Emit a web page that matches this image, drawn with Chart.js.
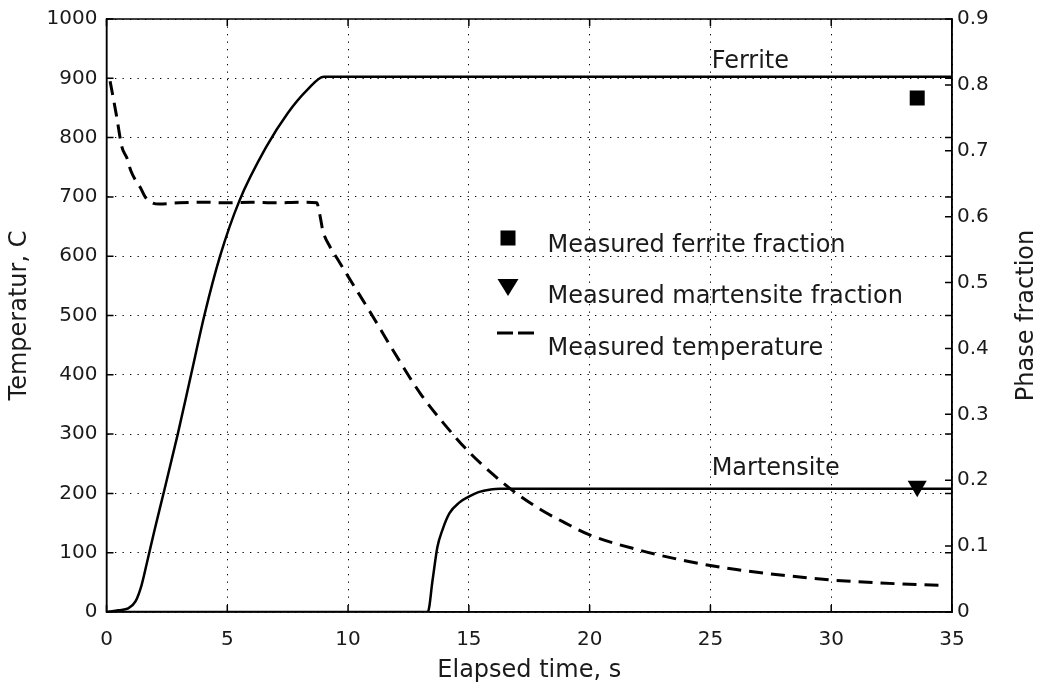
<!DOCTYPE html>
<html><head><meta charset="utf-8">
<style>html,body{margin:0;padding:0;background:#fff;}#wrap{width:1042px;height:689px;}</style>
<script src="https://cdn.jsdelivr.net/npm/chart.js@4.4.0/dist/chart.umd.min.js"></script>
</head><body><div id="wrap"><canvas id="c" width="1042" height="689"></canvas></div>
<script>
// ---- data ----
const ferriteTime = [0, 0.5, 0.9, 1.2, 1.45, 1.7, 2.0, 2.4, 2.95, 3.5, 4.05, 4.7, 5.5, 6.6, 7.5, 8.3, 9.0, 35];
const ferriteFraction = [0, 0.0027, 0.0054, 0.016, 0.0405, 0.079, 0.126, 0.186, 0.27, 0.36, 0.45, 0.54, 0.624, 0.705, 0.757, 0.792, 0.8125, 0.8125];
const martensiteTime = [0, 13.3, 13.5, 13.7, 13.9, 14.2, 14.6, 15.0, 15.4, 15.9, 16.3, 35];
const martensiteFraction = [0, 0, 0.049, 0.099, 0.124, 0.15, 0.166, 0.175, 0.182, 0.186, 0.187, 0.187];
const tempTime = [0.15, 0.4, 0.64, 0.85, 1.0, 1.2, 1.4, 1.6, 1.9, 2.2, 3, 4, 5, 6, 7, 8, 8.7, 8.85, 8.95, 9.25, 9.55, 10, 11, 12, 13, 14, 15, 16, 17, 18, 19, 20, 22, 24, 26, 28, 30, 32, 34.5];
const tempValues = [895, 840, 784, 765, 745, 728, 716, 700, 690, 688, 690, 691, 690, 691, 690, 691, 690, 666, 644, 616, 596, 566, 500, 432, 368, 316, 270, 232, 199, 172, 150, 130, 105, 86, 72, 62, 54, 49, 45];
const measuredTime = [33.56];
const measuredFerrite = [0.78];
const measuredMartensite = [0.191];
const xTicks = [0, 5, 10, 15, 20, 25, 30, 35];
const xTickLabels = ['0', '5', '10', '15', '20', '25', '30', '35'];
const tempTicks = [0, 100, 200, 300, 400, 500, 600, 700, 800, 900, 1000];
const tempTickLabels = ['0', '100', '200', '300', '400', '500', '600', '700', '800', '900', '1000'];
const fracTicks = [0, 0.1, 0.2, 0.3, 0.4, 0.5, 0.6, 0.7, 0.8, 0.9];
const fracTickLabels = ['0', '0.1', '0.2', '0.3', '0.4', '0.5', '0.6', '0.7', '0.8', '0.9'];
const curveLabels = ['Ferrite', 'Martensite'];
const curveLabelTime = [25.05, 25.05];
const curveLabelTemp = [917, 231];
const seriesNames = ['Ferrite', 'Martensite', 'Measured temperature', 'Measured ferrite fraction', 'Measured martensite fraction'];
const axisTitles = ['Elapsed time, s', 'Temperatur, C', 'Phase fraction'];

const FONT = 'DejaVu Sans';
const TEXT = '#1a1a1a';
const pts = (xs, ys) => xs.map((x, i) => ({x, y: ys[i]}));

const framePlugin = {
  id: 'framePlugin',
  afterDatasetsDraw(chart) {
    const {ctx, chartArea: a, scales} = chart;
    ctx.save();
    ctx.strokeStyle = '#000';
    ctx.lineWidth = 1.5;
    ctx.strokeRect(a.left, a.top, a.right - a.left, a.bottom - a.top);
    const L = 7;
    ctx.beginPath();
    scales.x.ticks.forEach(t => {
      const p = scales.x.getPixelForValue(t.value);
      ctx.moveTo(p, a.bottom); ctx.lineTo(p, a.bottom - L);
      ctx.moveTo(p, a.top); ctx.lineTo(p, a.top + L);
    });
    scales.y.ticks.forEach(t => {
      const p = scales.y.getPixelForValue(t.value);
      ctx.moveTo(a.left, p); ctx.lineTo(a.left + L, p);
      ctx.moveTo(a.right, p); ctx.lineTo(a.right - L, p);
    });
    scales.y2.ticks.forEach(t => {
      const p = scales.y2.getPixelForValue(t.value);
      ctx.moveTo(a.right, p); ctx.lineTo(a.right - L, p);
    });
    ctx.stroke();

    // curve labels
    ctx.fillStyle = TEXT;
    ctx.font = '24px "' + FONT + '"';
    ctx.textAlign = 'left';
    ctx.textBaseline = 'alphabetic';
    curveLabels.forEach((s, i) => {
      ctx.fillText(s, scales.x.getPixelForValue(curveLabelTime[i]), scales.y.getPixelForValue(curveLabelTemp[i]));
    });

    // legend
    const lx = a.left + 401.5, tx = a.left + 441;
    const rows = [
      {ds: 3, y: 252, sym: 'rect'},
      {ds: 4, y: 303, sym: 'tri'},
      {ds: 2, y: 355, sym: 'dash'}
    ];
    rows.forEach(r => {
      const label = chart.data.datasets[r.ds].label;
      ctx.fillStyle = TEXT;
      ctx.fillText(label, tx, r.y);
      ctx.fillStyle = '#000';
      if (r.sym === 'rect') {
        ctx.fillRect(lx - 7.5, r.y - 21.5, 15, 15);
      } else if (r.sym === 'tri') {
        const cy = r.y - 18;
        ctx.beginPath();
        ctx.moveTo(lx - 10.5, cy - 6);
        ctx.lineTo(lx + 10.5, cy - 6);
        ctx.lineTo(lx, cy + 11);
        ctx.closePath();
        ctx.fill();
      } else {
        ctx.lineWidth = 3;
        ctx.setLineDash([16, 5]);
        ctx.beginPath();
        ctx.moveTo(lx - 11, r.y - 22);
        ctx.lineTo(lx + 26, r.y - 22);
        ctx.stroke();
        ctx.setLineDash([]);
      }
    });

    // right axis title (reads bottom to top)
    ctx.save();
    ctx.translate(1027, (a.top + a.bottom) / 2);
    ctx.rotate(-Math.PI / 2);
    ctx.textAlign = 'center';
    ctx.textBaseline = 'middle';
    ctx.fillStyle = TEXT;
    ctx.fillText(axisTitles[2], 0, 0);
    ctx.restore();
    ctx.restore();
  }
};

new Chart(document.getElementById('c'), {
  type: 'line',
  data: {
    datasets: [
      {label: seriesNames[0], data: pts(ferriteTime, ferriteFraction), yAxisID: 'y2', borderColor: '#000', borderWidth: 2.5, pointRadius: 0, cubicInterpolationMode: 'monotone', fill: false},
      {label: seriesNames[1], data: pts(martensiteTime, martensiteFraction), yAxisID: 'y2', borderColor: '#000', borderWidth: 2.5, pointRadius: 0, cubicInterpolationMode: 'monotone', fill: false},
      {label: seriesNames[2], data: pts(tempTime, tempValues), yAxisID: 'y', borderColor: '#000', borderWidth: 3, borderDash: [14, 8], pointRadius: 0, cubicInterpolationMode: 'monotone', fill: false},
      {label: seriesNames[3], data: pts(measuredTime, measuredFerrite), yAxisID: 'y2', showLine: false, pointStyle: 'rect', pointRadius: 10.6, backgroundColor: '#000', borderColor: '#000', borderWidth: 0},
      {label: seriesNames[4], data: pts(measuredTime, measuredMartensite), yAxisID: 'y2', showLine: false, pointStyle: 'triangle', rotation: 180, pointRadius: 11, backgroundColor: '#000', borderColor: '#000', borderWidth: 0}
    ]
  },
  options: {
    responsive: false,
    devicePixelRatio: 1,
    animation: false,
    layout: {padding: {top: 19, left: 0, right: 0, bottom: 0}},
    plugins: {legend: {display: false}, tooltip: {enabled: false}},
    scales: {
      x: {
        type: 'linear', min: 0, max: 35,
        afterBuildTicks: s => { s.ticks = xTicks.map(v => ({value: v})); },
        afterFit: s => { s.height = 77; s.paddingLeft = 0; s.paddingRight = 0; },
        ticks: {color: TEXT, font: {family: FONT, size: 20}, padding: 16, maxRotation: 0, autoSkip: false,
          callback: (v, i) => xTickLabels[i]},
        grid: {color: '#000', lineWidth: 1, drawTicks: false},
        border: {display: true, color: '#000', width: 1.5, dash: [1.3, 6.2]},
        title: {display: true, text: axisTitles[0], color: TEXT, font: {family: FONT, size: 24}, padding: {top: 0, bottom: 3.6}}
      },
      y: {
        type: 'linear', position: 'left', min: 0, max: 1000,
        afterBuildTicks: s => { s.ticks = tempTicks.map(v => ({value: v})); },
        afterFit: s => { s.width = 106.5; s.paddingTop = 0; s.paddingBottom = 0; },
        ticks: {color: TEXT, font: {family: FONT, size: 20}, padding: 9, autoSkip: false,
          callback: (v, i) => tempTickLabels[i]},
        grid: {color: '#000', lineWidth: 1, drawTicks: false},
        border: {display: true, color: '#000', width: 1.5, dash: [1.3, 6.2]},
        title: {display: true, text: axisTitles[1], color: TEXT, font: {family: FONT, size: 24}, padding: {top: 5.6, bottom: 0}}
      },
      y2: {
        type: 'linear', position: 'right', min: 0, max: 0.9,
        afterBuildTicks: s => { s.ticks = fracTicks.map(v => ({value: v})); },
        afterFit: s => { s.width = 90; s.paddingTop = 0; s.paddingBottom = 0; },
        ticks: {color: TEXT, font: {family: FONT, size: 20}, padding: 5, autoSkip: false,
          callback: (v, i) => fracTickLabels[i]},
        grid: {drawOnChartArea: false, drawTicks: false},
        border: {display: true, color: '#000', width: 1.5}
      }
    }
  },
  plugins: [framePlugin]
});
</script></body></html>
